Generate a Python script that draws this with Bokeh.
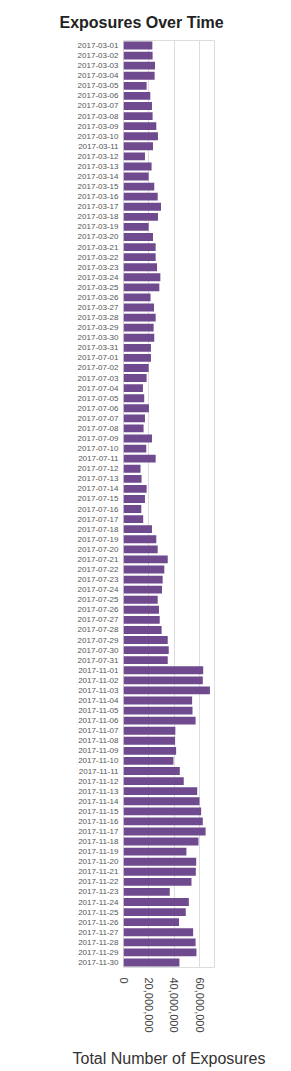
import math
from bokeh.plotting import figure
from bokeh.models import ColumnDataSource, Range1d, FactorRange, NumeralTickFormatter, FixedTicker
from bokeh.embed import file_html
from bokeh.resources import INLINE

march_days = ["2017-03-%02d" % d for d in range(1, 32)]
july_days = ["2017-07-%02d" % d for d in range(1, 32)]
nov_days = ["2017-11-%02d" % d for d in range(1, 31)]

# exposures, millions
march_vals = [22.7, 22.9, 24.8, 24.5, 18.2, 21.1, 22.4, 22.9, 25.8, 27.1, 23.2, 16.9, 22.1, 19.8, 24.2,
              26.9, 29.5, 27.1, 19.8, 23.2, 25.3, 25.3, 26.4, 29.0, 28.2, 21.3, 24.0, 25.3, 23.7, 24.2,
              21.6]
july_vals = [21.6, 19.8, 18.2, 15.3, 16.3, 20.0, 16.9, 15.8, 22.4, 17.9, 25.3, 13.4, 14.2, 18.2, 16.9,
             14.0, 15.5, 22.4, 25.8, 26.9, 34.8, 32.1, 30.8, 30.3, 26.9, 27.9, 28.5, 30.0, 34.8, 35.6,
             34.8]
nov_vals = [62.7, 62.4, 68.0, 54.0, 54.3, 56.7, 40.8, 40.6, 41.4, 39.3, 44.3, 47.4, 58.0, 59.8, 61.1,
            62.4, 64.6, 59.0, 49.5, 57.2, 56.9, 53.5, 36.4, 51.4, 49.0, 43.7, 54.8, 56.7, 57.4, 44.0]

x_ticks = [0, 20000000, 40000000, 60000000]

dates = march_days + july_days + nov_days
values = [v * 1e6 for v in march_vals + july_vals + nov_vals]
source = ColumnDataSource(dict(date=dates, value=values))

FONT = "Liberation Sans"

p = figure(frame_width=91, frame_height=927, output_backend="svg", toolbar_location=None,
           y_range=FactorRange(*reversed(dates)), x_range=Range1d(0, 71.6e6),
           title="Exposures Over Time",
           min_border_left=123, min_border_right=61, min_border_top=40, min_border_bottom=96)

p.hbar(y="date", left=0, right="value", height=0.78, source=source,
       fill_color="#704a8e", line_color=None)

p.title.text_font = FONT
p.title.text_font_size = "16px"
p.title.text_font_style = "bold"
p.title.text_color = "#222222"
p.title.align = "left"
p.title.offset = -64
p.title.standoff = 20

p.outline_line_color = "#dddddd"
p.ygrid.grid_line_color = None
p.xgrid.grid_line_color = "#dddddd"
p.xgrid.ticker = FixedTicker(ticks=x_ticks)

xa = p.xaxis[0]
xa.ticker = FixedTicker(ticks=x_ticks)
xa.formatter = NumeralTickFormatter(format="0,0")
xa.major_label_orientation = -math.pi / 2
xa.axis_line_color = None
xa.major_tick_line_color = None
xa.major_tick_out = 0
xa.major_tick_in = 0
xa.minor_tick_line_color = None
xa.major_label_text_font = FONT
xa.major_label_text_font_size = "11px"
xa.major_label_text_color = "#444444"
xa.major_label_standoff = 10
xa.axis_label = "Total Number of Exposures"
xa.axis_label_text_font = FONT
xa.axis_label_text_font_size = "16px"
xa.axis_label_text_font_style = "normal"
xa.axis_label_text_color = "#333333"
xa.axis_label_standoff = 14

ya = p.yaxis[0]
ya.axis_line_color = None
ya.major_tick_line_color = None
ya.major_tick_out = 0
ya.major_tick_in = 0
ya.minor_tick_line_color = None
ya.major_label_text_font = FONT
ya.major_label_text_font_size = "8px"
ya.major_label_text_color = "#555555"
ya.major_label_standoff = 5

open("out.html", "w").write(file_html(p, INLINE))
